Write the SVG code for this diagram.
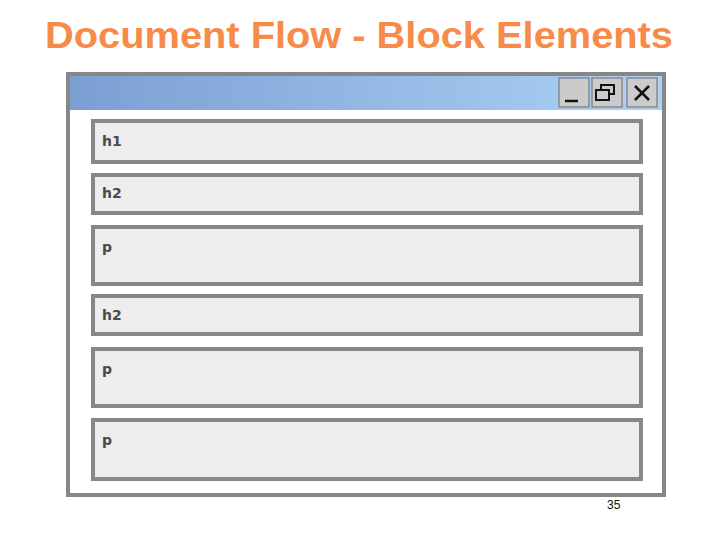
<svg xmlns="http://www.w3.org/2000/svg" width="720" height="540" viewBox="0 0 720 540">
<style>
.title{font-family:"Liberation Sans",Arial,sans-serif;font-weight:bold;font-size:36px;fill:#f68b4a}
.box{fill:#ededed;stroke:#878787;stroke-width:4}
.lbl{font-family:"DejaVu Sans",Verdana,sans-serif;font-weight:bold;font-size:14px;fill:#4a4a4a}
.btn{fill:#cbcbcb;stroke:#8a8a8a;stroke-width:1.5}
.ico{stroke:#111;stroke-width:2.5;fill:none}
.pg{font-family:"Liberation Sans",Arial,sans-serif;font-size:12px;fill:#111}
</style>
<defs>
<linearGradient id="tb" x1="0" y1="0" x2="1" y2="0">
<stop offset="0" stop-color="#7b9fd3"/>
<stop offset="1" stop-color="#abd2f6"/>
</linearGradient>
</defs>
<rect width="720" height="540" fill="#ffffff"/>
<text class="title" x="359" y="48" text-anchor="middle" textLength="628" lengthAdjust="spacingAndGlyphs">Document Flow - Block Elements</text>
<g id="window">
<rect x="68" y="74" width="596" height="421" fill="#ffffff" stroke="#878787" stroke-width="4"/>
<rect x="70" y="76" width="592" height="34" fill="url(#tb)"/>
<rect class="btn" x="559" y="78" width="30" height="29"/>
<line class="ico" x1="565" y1="101" x2="578" y2="101"/>
<rect class="btn" x="592" y="78" width="30" height="29"/>
<rect x="601" y="85" width="13" height="9" fill="none" stroke="#111" stroke-width="2"/>
<rect x="596" y="90" width="13" height="10" fill="#cbcbcb" stroke="#111" stroke-width="2"/>
<rect class="btn" x="627" y="78" width="30" height="29"/>
<path class="ico" d="M635 86 L649 100 M649 86 L635 100"/>
</g>
<g id="h1">
<rect class="box" x="93" y="121" width="548" height="41"/>
<text class="lbl" x="102" y="146">h1</text>
</g>
<g id="h2a">
<rect class="box" x="93" y="175" width="548" height="38"/>
<text class="lbl" x="102" y="198">h2</text>
</g>
<g id="p1">
<rect class="box" x="93" y="227" width="548" height="57"/>
<text class="lbl" x="102" y="252">p</text>
</g>
<g id="h2b">
<rect class="box" x="93" y="296" width="548" height="38"/>
<text class="lbl" x="102" y="320">h2</text>
</g>
<g id="p2">
<rect class="box" x="93" y="349" width="548" height="57"/>
<text class="lbl" x="102" y="374">p</text>
</g>
<g id="p3">
<rect class="box" x="93" y="420" width="548" height="59"/>
<text class="lbl" x="102" y="445">p</text>
</g>
<g id="connectors"></g>
<text class="pg" x="607" y="509">35</text>
</svg>
